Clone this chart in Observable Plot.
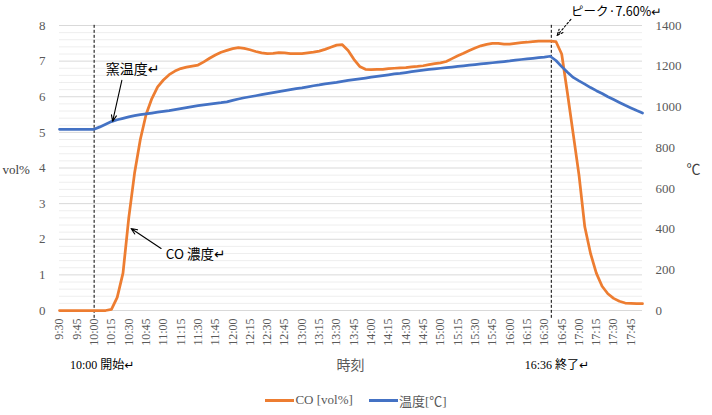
<!DOCTYPE html>
<html><head><meta charset="utf-8">
<script src="https://cdn.jsdelivr.net/npm/d3@7"></script>
<script src="https://cdn.jsdelivr.net/npm/@observablehq/plot@0.6"></script>
<style>
body{margin:0;background:#fff;}
#chart svg{display:block;}
#chart g[aria-label*="tick label"], #chart g[aria-label*="tick label"] text{font-family:'Liberation Serif',serif !important;}
#legend{display:flex;justify-content:center;align-items:center;height:30px;font-family:'Liberation Serif','Noto Sans CJK JP',serif;font-size:13px;color:#595959;padding-left:0px;}
.sw{display:inline-block;width:29px;height:3px;margin-right:1px;}
</style></head><body>
<div id="chart"></div>
<div id="legend"><span class="sw" style="background:#ED7D31"></span><span>CO [vol%]</span><span style="display:inline-block;width:16px"></span><span class="sw" style="background:#4472C4"></span><span>温度[℃]</span></div>
<script>
// time grid: 9:30 start, 5-minute readings
const startMinute = 570, stepMinute = 5;
const coValues = [0,0,0,0,0,0,0,0,0,0.03,0.37,1.05,2.6,3.85,4.8,5.5,5.95,6.28,6.47,6.62,
  6.72,6.79,6.83,6.86,6.89,6.98,7.08,7.17,7.25,7.3,7.35,7.38,7.36,7.32,7.27,7.23,7.21,7.22,7.24,7.23,
  7.21,7.21,7.21,7.23,7.25,7.28,7.33,7.39,7.45,7.46,7.3,7.05,6.85,6.77,6.76,6.77,6.77,6.79,6.8,6.81,
  6.82,6.84,6.85,6.87,6.9,6.93,6.95,6.99,7.07,7.15,7.22,7.3,7.37,7.43,7.47,7.5,7.5,7.48,7.48,7.5,
  7.52,7.53,7.55,7.56,7.56,7.56,7.55,7.2,6.1,4.95,3.8,2.35,1.6,1.05,0.68,0.47,0.34,0.26,0.21,0.2,
  0.19,0.19];
const tempValues = [890,890,890,890,890,890,890,902,915,928,937,944,951,957,962,966,970,974,978,982,
  987,992,997,1002,1006,1010,1014,1018,1021,1025,1032,1039,1045,1050,1055,1060,1065,1070,1075,1080,
  1085,1090,1094,1099,1104,1108,1113,1117,1121,1126,1130,1134,1138,1142,1146,1150,1154,1158,1162,1165,
  1169,1173,1177,1181,1184,1187,1190,1193,1196,1199,1202,1205,1208,1211,1214,1217,1220,1223,1226,1230,
  1233,1236,1239,1242,1245,1249,1228,1198,1170,1145,1128,1112,1095,1080,1066,1050,1036,1022,1008,995,
  982,970];
const tickLabels = ["9:30","9:45","10:00","10:15","10:30","10:45","11:00","11:15","11:30","11:45",
  "12:00","12:15","12:30","12:45","13:00","13:15","13:30","13:45","14:00","14:15","14:30","14:45",
  "15:00","15:15","15:30","15:45","16:00","16:15","16:30","16:45","17:00","17:15","17:30","17:45"];
const leftTicks = [0,1,2,3,4,5,6,7,8];
const rightTicks = [0,200,400,600,800,1000,1200,1400];
const eventTimes = ["10:00","16:36"];
const eventLabels = [{t:"10:00", text:"10:00 開始↵", x0:"9:39"},{t:"16:36", text:"16:36 終了↵", x0:"16:13"}];
const tempMax = 1400, coMax = 8;

const toMin = s => { const [h,m] = s.split(":").map(Number); return h*60+m; };
const data = coValues.map((c,i) => ({m: startMinute + i*stepMinute, co: c, temp: tempValues[i]}));
const tickMap = new Map(tickLabels.map(s => [toMin(s), s]));
const tToV = t => t*coMax/tempMax;
const minor = d3.range(0, 40).map(i => i*0.2).filter(v => Math.abs(v - Math.round(v)) > 1e-6);

const serif = "Liberation Serif, Noto Sans CJK JP, DejaVu Sans, serif";
const sans = "Noto Sans CJK JP, DejaVu Sans, sans-serif";

// annotation anchors in data coordinates (minutes, vol%)
const arrows = [
  {x1: toMin("10:24"), y1: 6.46, x2: toMin("10:16"), y2: 5.31},
  {x1: toMin("10:58"), y1: 1.74, x2: toMin("10:32"), y2: 2.3}
];
const peakArrow = [{x1: toMin("16:53"), y1: 8.17, x2: toMin("16:41"), y2: 7.72}];
const notes = [
  {x: toMin("10:10"), y: 6.77, text: "窯温度↵"},
  {x: toMin("11:02"), y: 1.57, text: "CO 濃度↵"},
  {x: toMin("16:53"), y: 8.39, text: "ピーク·7.60%↵"}
];

const chart = Plot.plot({
  width: 712, height: 385,
  marginTop: 25, marginBottom: 75, marginLeft: 59, marginRight: 70,
  x: {type: "linear", domain: [570, 1075]},
  y: {domain: [0, 8]},
  style: {fontFamily: serif, background: "#fff", overflow: "visible"},
  marks: [
    Plot.gridY(minor, {stroke: "#eeeeee", strokeOpacity: 1}),
    Plot.gridY(leftTicks, {stroke: "#d9d9d9", strokeOpacity: 1}),
    Plot.ruleY([0], {stroke: "#d9d9d9"}),
    Plot.axisY(leftTicks, {anchor: "left", tickSize: 0, tickPadding: 14, label: null, fontSize: 13, color: "#595959", fontFamily: serif}),
    Plot.axisY(rightTicks.map(tToV), {anchor: "right", tickSize: 0, tickPadding: 13, label: null, fontSize: 13, color: "#595959", fontFamily: serif,
      tickFormat: d => String(Math.round(d*tempMax/coMax))}),
    Plot.axisX([...tickMap.keys()], {anchor: "bottom", tickRotate: -90, tickSize: 0, tickPadding: 8, label: null, fontSize: 12, color: "#595959", fontFamily: serif,
      tickFormat: d => tickMap.get(d)}),
    Plot.text(["vol%"], {frameAnchor: "left", dx: -57, dy: 2, textAnchor: "start", fontSize: 13, fill: "#404040", fontFamily: serif}),
    Plot.text(["℃"], {frameAnchor: "right", dx: 44, dy: 2, textAnchor: "start", fontSize: 14, fill: "#404040", fontFamily: serif}),
    Plot.text(["時刻"], {x: [toMin("13:42")], y: [-1.54], textAnchor: "middle", fontSize: 14, fill: "#595959", fontFamily: serif}),
    Plot.text(eventLabels, {x: d => toMin(d.x0), y: -1.54, text: "text", textAnchor: "start", fontSize: 12, fill: "#000", fontFamily: serif}),
    Plot.ruleX(eventTimes.map(toMin), {y1: -0.22, y2: 8.03, stroke: "#000", strokeWidth: 1, strokeDasharray: "3,2"}),
    Plot.line(data, {x: "m", y: "co", stroke: "#ED7D31", strokeWidth: 2.75, curve: "linear"}),
    Plot.line(data, {x: "m", y: d => tToV(d.temp), stroke: "#4472C4", strokeWidth: 2.75, curve: "linear"}),
    Plot.arrow(arrows, {x1: "x1", y1: "y1", x2: "x2", y2: "y2", stroke: "#000", strokeWidth: 1.1, headLength: 9, headAngle: 45}),
    Plot.arrow(peakArrow, {x1: "x1", y1: "y1", x2: "x2", y2: "y2", stroke: "#000", strokeWidth: 1.1, headLength: 9, headAngle: 45, strokeDasharray: "2,2"}),
    Plot.text(notes.slice(0,1), {x: "x", y: "y", text: "text", textAnchor: "start", fontSize: 14, fill: "#000", fontFamily: serif}),
    Plot.text(notes.slice(1,2), {x: "x", y: "y", text: "text", textAnchor: "start", fontSize: 13.5, fill: "#000", fontFamily: sans}),
    Plot.text(notes.slice(2,3), {x: "x", y: "y", text: "text", textAnchor: "start", fontSize: 12.5, fill: "#000", fontFamily: sans})
  ]
});
document.getElementById("chart").appendChild(chart);
</script>
</body></html>
